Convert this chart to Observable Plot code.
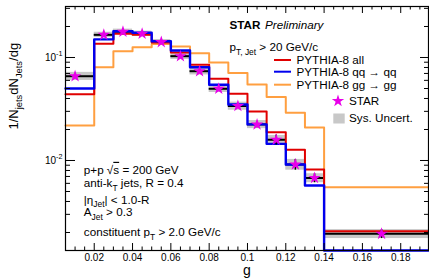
<!DOCTYPE html>
<html><head><meta charset="utf-8">
<script src="https://cdn.jsdelivr.net/npm/d3@7"></script>
<script src="https://cdn.jsdelivr.net/npm/@observablehq/plot@0.6"></script>
<style>
html,body{margin:0;padding:0;background:#fff;}
#chart svg{display:block;}
#chart text{white-space:pre;}
</style></head><body><div id="chart"></div>
<script>
// ---- data ----
const binEdges = [0, 0.02, 0.03, 0.04, 0.05, 0.06, 0.07, 0.08, 0.09, 0.10, 0.11, 0.12, 0.13, 0.14, 0.20];
const starX = [0.01, 0.025, 0.035, 0.045, 0.055, 0.065, 0.075, 0.085, 0.095, 0.105, 0.115, 0.125, 0.135, 0.17];
const starValues = [0.0658, 0.166, 0.178, 0.170, 0.141, 0.103, 0.0736, 0.0497, 0.0338, 0.0224, 0.0159, 0.00915, 0.00676, 0.00194];
const starStat = [0.03, 0.02, 0.02, 0.02, 0.02, 0.03, 0.03, 0.04, 0.05, 0.07, 0.11, 0.12, 0.10, 0.10];
const starSys = [0.09, 0.06, 0.06, 0.06, 0.06, 0.07, 0.08, 0.08, 0.09, 0.09, 0.10, 0.12, 0.10, 0.10];
const pythiaAll = [0.0440, 0.136, 0.170, 0.166, 0.140, 0.112, 0.0849, 0.0621, 0.0444, 0.0299, 0.0188, 0.0127, 0.00818, 0.00206];
const pythiaQQ = [0.0500, 0.150, 0.180, 0.174, 0.144, 0.117, 0.0805, 0.0543, 0.0350, 0.0224, 0.0145, 0.00915, 0.00572, 0];
const pythiaGG = [0.0219, 0.0805, 0.115, 0.126, 0.135, 0.128, 0.110, 0.0894, 0.0707, 0.0547, 0.0414, 0.0290, 0.0209, 0.00551];
const xTickLabels = [0.02, 0.04, 0.06, 0.08, 0.1, 0.12, 0.14, 0.16, 0.18];
const yTickLabels = [0.1, 0.01];
const seriesNames = ["PYTHIA-8 all", "PYTHIA-8 qq \u2192 qq", "PYTHIA-8 gg \u2192 gg"];

// ---- layout / style ----
const W = 429, H = 280;
const mL = 65, mR = 1, mT = 6, mB = 30;
const plotW = W - mL - mR, plotH = H - mT - mB;
const xDomain = [0.005, 0.1945];
const yDomain = [0.001337, 0.3127];
const FONT = "'Liberation Sans', Arial, Helvetica, sans-serif";
const RED = "#e00000", BLUE = "#0000ee", ORANGE = "#ff9f40", MAG = "#e800e8", GREY = "#c8c8c8";
const TXT = 11.7;
const STAR_R = 3.9;

const clampX = x => Math.min(Math.max(x, xDomain[0]), xDomain[1]);
const clampY = v => Math.max(v, yDomain[0]);
const nb = starX.length;

const bins = d3.range(nb).map(i => ({
  lo: clampX(binEdges[i]), hi: clampX(binEdges[i + 1]), c: starX[i],
  v: starValues[i], stat: starStat[i], sys: starSys[i]
}));
function steps(values) {
  const pts = values.map((v, i) => ({x: clampX(binEdges[i]), y: clampY(v)}));
  pts.push({x: clampX(binEdges[nb]), y: clampY(values[nb - 1])});
  return pts;
}

// tick positions
const xMajor = xTickLabels;
const xMinor = d3.range(1, 39).map(i => +(i * 0.005).toFixed(3))
  .filter(v => v >= xDomain[0] && v <= xDomain[1] && !xMajor.some(m => Math.abs(m - v) < 1e-9));
const yMajor = yTickLabels;
const yMinor = [];
for (const e of [-3, -2, -1]) for (let m = 2; m <= 9; m++) {
  const v = m * Math.pow(10, e);
  if (v >= yDomain[0] && v <= yDomain[1]) yMinor.push(v);
}

const chart = Plot.plot({
  width: W, height: H,
  marginLeft: mL, marginRight: mR, marginTop: mT, marginBottom: mB,
  x: {domain: xDomain, label: null},
  y: {type: "log", domain: yDomain, label: null},
  style: {fontFamily: FONT, fontSize: "10px", background: "white", color: "black", overflow: "visible"},
  marks: [
    Plot.rect(bins, {x1: "lo", x2: "hi", y1: d => d.v * (1 - d.sys), y2: d => d.v * (1 + d.sys), fill: GREY}),
    Plot.ruleY(bins, {y: "v", x1: "lo", x2: "hi", stroke: "black", strokeWidth: 2}),
    Plot.line(steps(pythiaGG), {x: "x", y: "y", curve: "step-after", stroke: ORANGE, strokeWidth: 2}),
    Plot.line(steps(pythiaAll), {x: "x", y: "y", curve: "step-after", stroke: RED, strokeWidth: 2}),
    Plot.line(steps(pythiaQQ), {x: "x", y: "y", curve: "step-after", stroke: BLUE, strokeWidth: 2.4}),
    Plot.ruleX(bins, {x: "c", y1: d => d.v * (1 - d.stat), y2: d => d.v * (1 + d.stat), stroke: "black", strokeWidth: 1.5}),
    Plot.dot(bins, {x: "c", y: "v", symbol: "star", r: STAR_R, fill: MAG, stroke: "none"}),
    Plot.frame({stroke: "black", strokeWidth: 1.2}),
    Plot.tickX(xMajor, {x: d => d, insetTop: plotH - 7, stroke: "black"}),
    Plot.tickX(xMinor, {x: d => d, insetTop: plotH - 3.5, stroke: "black"}),
    Plot.tickX(xMajor, {x: d => d, insetBottom: plotH - 7, stroke: "black"}),
    Plot.tickX(xMinor, {x: d => d, insetBottom: plotH - 3.5, stroke: "black"}),
    Plot.tickY(yMajor, {y: d => d, insetRight: plotW - 10, stroke: "black"}),
    Plot.tickY(yMinor, {y: d => d, insetRight: plotW - 5, stroke: "black"}),
    Plot.tickY(yMajor, {y: d => d, insetLeft: plotW - 8, stroke: "black"}),
    Plot.tickY(yMinor, {y: d => d, insetLeft: plotW - 4, stroke: "black"}),
    Plot.axisX(xTickLabels, {anchor: "bottom", tickSize: 0, tickPadding: 3, tickFormat: d => String(d), label: null}),
    Plot.axisY(yTickLabels, {anchor: "left", tickSize: 0, tickPadding: 3, tickFormat: d => "10^{" + Math.round(Math.log10(d)) + "}", label: null}),
    Plot.text(["g"], {text: d => d, frameAnchor: "bottom", dy: 24.5, fontSize: 14}),
    Plot.text(["1/N_{jets}dN_{Jets}/dg"], {text: d => d, frameAnchor: "left", dx: -52, dy: 1, rotate: -90, fontSize: 13}),
    Plot.text(["STAR"], {text: d => d, frameAnchor: "top-left", dx: 164, dy: 14.3, textAnchor: "start", fontWeight: "bold", fontSize: TXT}),
    Plot.text(["Preliminary"], {text: d => d, frameAnchor: "top-left", dx: 199.5, dy: 14.3, textAnchor: "start", fontStyle: "italic", fontSize: TXT}),
    Plot.text(["p_{T, Jet} > 20 GeV/c"], {text: d => d, frameAnchor: "top-left", dx: 164, dy: 36.5, textAnchor: "start", fontSize: TXT}),
    Plot.text(["p+p \u221A~{s} = 200 GeV"], {text: d => d, frameAnchor: "top-left", dx: 18.3, dy: 159, textAnchor: "start", fontSize: TXT}),
    Plot.text(["anti-k_{T} jets, R = 0.4"], {text: d => d, frameAnchor: "top-left", dx: 18.3, dy: 172.3, textAnchor: "start", fontSize: TXT}),
    Plot.text(["|\u03B7_{Jet}| < 1.0-R"], {text: d => d, frameAnchor: "top-left", dx: 18.3, dy: 189, textAnchor: "start", fontSize: TXT}),
    Plot.text(["A_{Jet} > 0.3"], {text: d => d, frameAnchor: "top-left", dx: 18.3, dy: 201.5, textAnchor: "start", fontSize: TXT}),
    Plot.text(["constituent p_{T} > 2.0 GeV/c"], {text: d => d, frameAnchor: "top-left", dx: 18.3, dy: 221.3, textAnchor: "start", fontSize: TXT})
  ]
});

document.getElementById("chart").appendChild(chart);

// ---- legend (inside frame) ----
const svg = d3.select(chart);
const lg = svg.append("g").attr("font-family", FONT).attr("font-size", TXT).attr("text-anchor", "start");
const legendRows = [
  {name: seriesNames[0], color: RED, y: 60},
  {name: seriesNames[1], color: BLUE, y: 71.7},
  {name: seriesNames[2], color: ORANGE, y: 84.7}
];
for (const r of legendRows) {
  lg.append("line").attr("x1", 274).attr("x2", 291).attr("y1", r.y).attr("y2", r.y)
    .attr("stroke", r.color).attr("stroke-width", 2);
  lg.append("text").attr("x", 296.5).attr("y", r.y).attr("dy", "0.35em").text(r.name);
}
lg.append("path").attr("transform", "translate(338,101)")
  .attr("d", d3.symbol(d3.symbolStar, Math.PI * STAR_R * STAR_R)()).attr("fill", MAG);
lg.append("text").attr("x", 349).attr("y", 101.3).attr("dy", "0.35em").text("STAR");
lg.append("rect").attr("x", 333.3).attr("y", 113.5).attr("width", 11.4).attr("height", 10).attr("fill", GREY);
lg.append("text").attr("x", 349).attr("y", 118.3).attr("dy", "0.35em").text("Sys. Uncert.");

// ---- sub/superscript markup -> tspans ----
function richText(root) {
  root.querySelectorAll("text").forEach(t => {
    const s = t.textContent;
    if (!/[_^~]\{/.test(s)) return;
    const base = parseFloat(getComputedStyle(t).fontSize) || 10;
    const parts = [];
    const re = /([_^~])\{([^}]*)\}/g;
    let last = 0, m;
    while ((m = re.exec(s))) {
      if (m.index > last) parts.push({k: "", s: s.slice(last, m.index)});
      parts.push({k: m[1], s: m[2]});
      last = re.lastIndex;
    }
    if (last < s.length) parts.push({k: "", s: s.slice(last)});
    while (t.firstChild) t.removeChild(t.firstChild);
    let off = 0;
    for (const p of parts) {
      const ts = document.createElementNS("http://www.w3.org/2000/svg", "tspan");
      let target = 0;
      if (p.k === "_") { target = base * 0.3; ts.setAttribute("font-size", base * 0.72); }
      else if (p.k === "^") { target = -base * 0.42; ts.setAttribute("font-size", base * 0.72); }
      else if (p.k === "~") { ts.setAttribute("text-decoration", "overline"); }
      const d = target - off;
      if (d) ts.setAttribute("dy", d);
      off = target;
      ts.textContent = p.s;
      t.appendChild(ts);
    }
  });
}
richText(chart);
</script>
</body></html>
